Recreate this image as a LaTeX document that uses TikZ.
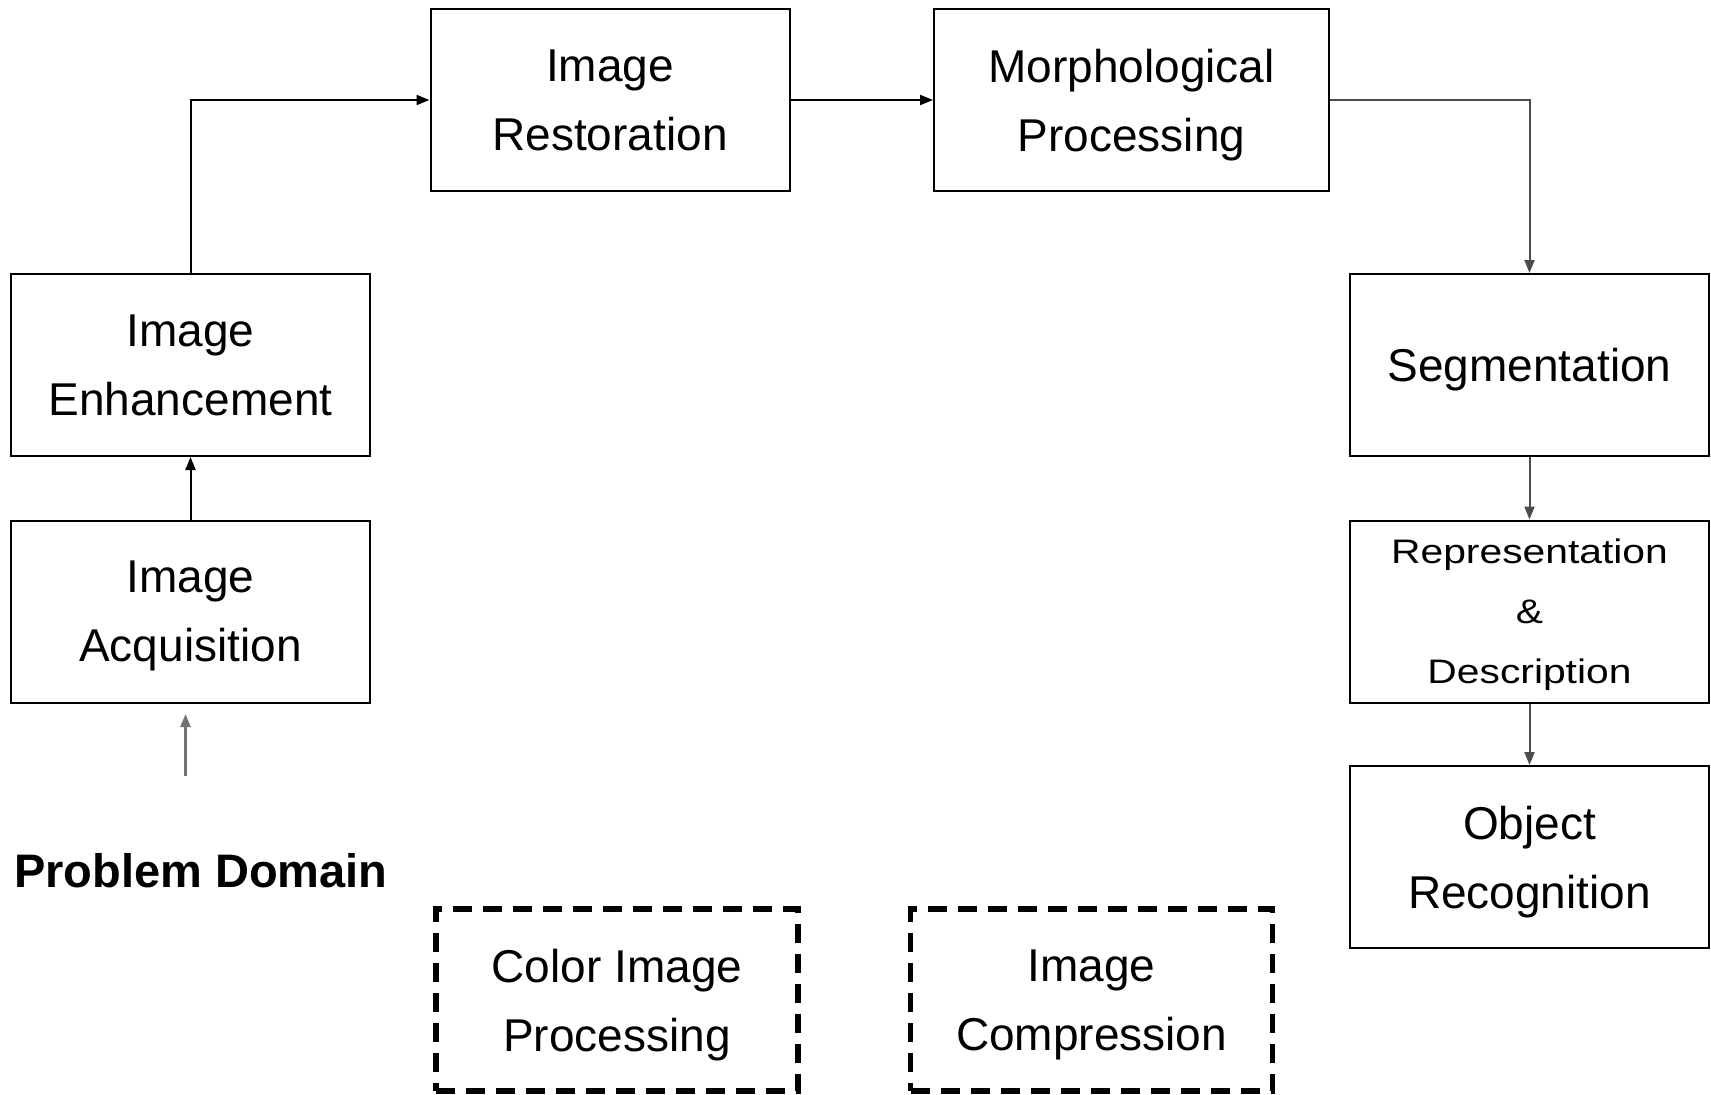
\documentclass[tikz,border=0pt]{standalone}
\usepackage{fontspec}
\setmainfont{Liberation Sans}
\newfontfamily\widefont[FakeStretch=1.2]{Liberation Sans}
\usetikzlibrary{arrows.meta}
\begin{document}
\begin{tikzpicture}[x=1pt,y=-1pt,
  procbox/.style={draw, line width=2pt, inner sep=0pt, align=center,
    minimum width=359pt, minimum height=182pt, text depth=-7pt,
    font=\fontsize{46}{69}\selectfont},
  dashbox/.style={draw, line width=5.5pt, dash pattern=on 19pt off 11pt,
    inner sep=0pt, align=center, minimum width=362pt, minimum height=182pt,
    text depth=-6pt, font=\fontsize{46}{69}\selectfont},
  flow/.style={line width=2pt, -{Triangle[length=13pt,width=10pt]}},
  softflow/.style={line width=2pt, draw=black!70, -{Triangle[length=13pt,width=10pt]}},
]
\useasboundingbox (0,0) rectangle (1711,1095);

\node[procbox] (rest) at (610,100) {Image\\Restoration};
\node[procbox, minimum width=395pt] (morph) at (1131.5,100) {Morphological\\Processing};
\node[procbox] (enh) at (190.5,365) {Image\\Enhancement};
\node[procbox] (acq) at (190.5,611.5) {Image\\Acquisition};
\node[procbox] (seg) at (1529.5,365) {Segmentation};
\node[procbox, font=\widefont\fontsize{34}{60}\selectfont] (rep) at (1529.5,611.5) {Representation\\\&\\Description};
\node[procbox] (obj) at (1529.5,857) {Object\\Recognition};
\node[dashbox] (color) at (617,1000) {Color Image\\Processing};
\node[dashbox] (comp) at (1091.5,1000) {Image\\Compression};

\node[anchor=base, font=\bfseries\fontsize{47}{56}\selectfont] (pd) at (201,887) {Problem Domain};
\coordinate (pdstart) at (185.5,776);
\coordinate (pdend) at (185.5,714);

\draw[flow] (enh.north) |- (rest.west);
\draw[flow] (rest) -- (morph);
\draw[softflow] (morph.east) -| (seg.north);
\draw[flow] (acq) -- (enh);
\draw[softflow] (seg) -- (rep);
\draw[softflow] (rep) -- (obj);
\draw[softflow, draw=black!55, line width=2.5pt] (pdstart) -- (pdend);
\end{tikzpicture}
\end{document}
